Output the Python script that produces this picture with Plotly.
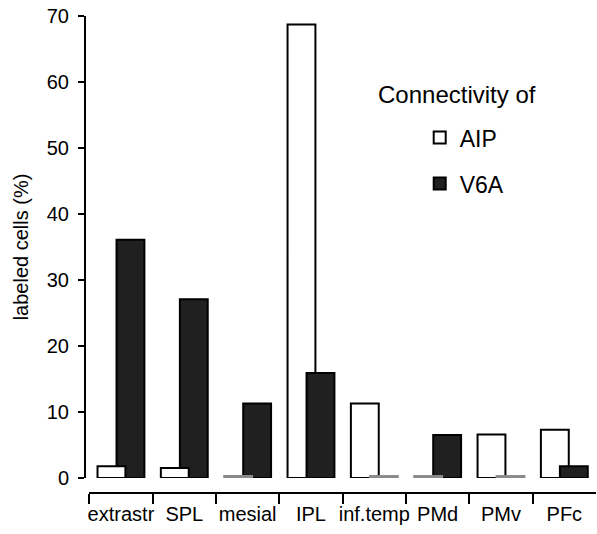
import plotly.graph_objects as go

categories = ["extrastr", "SPL", "mesial", "IPL", "inf.temp", "PMd", "PMv", "PFc"]
aip_values = [1.8, 1.5, 0.3, 68.7, 11.3, 0.3, 6.6, 7.3]
v6a_values = [36.1, 27.1, 11.3, 15.9, 0.3, 6.5, 0.3, 1.8]
y_ticks = [0, 10, 20, 30, 40, 50, 60, 70]

FONT = "Liberation Sans, Arial, sans-serif"
DARK = "#202020"


def split(vals, other):
    back = [v if v >= o else None for v, o in zip(vals, other)]
    front = [v if v < o else None for v, o in zip(vals, other)]
    return back, front


def line_colors(vals):
    return ["#8a8a8a" if (v is not None and v < 1) else "black" for v in vals]


aip_back, aip_front = split(aip_values, v6a_values)
v6a_back, v6a_front = split(v6a_values, aip_values)

fig = go.Figure()
specs = [
    ("AIP", aip_back, "white", -0.37, True, "a"),
    ("V6A", v6a_back, DARK, -0.07, True, "b"),
    ("AIP", aip_front, "white", -0.37, False, "a"),
    ("V6A", v6a_front, DARK, -0.07, False, "b"),
]
for name, vals, fill, off, show, grp in specs:
    fig.add_trace(go.Bar(
        x=categories, y=vals, name=name, width=0.44, offset=off,
        marker=dict(color=fill, line=dict(color=line_colors(vals), width=2)),
        showlegend=show, legendgroup=grp, cliponaxis=False,
    ))

fig.update_layout(
    width=597, height=534,
    margin=dict(l=85, r=1, t=16, b=41),
    paper_bgcolor="white", plot_bgcolor="white",
    barmode="overlay",
    font=dict(family=FONT, size=20, color="black"),
    xaxis=dict(
        domain=[0.0084, 1], range=[-0.5, 7.5], anchor="free", position=0,
        showline=True, linewidth=2, linecolor="black",
        ticks="outside", ticklen=10, tickwidth=2, tickcolor="black",
        tickson="boundaries", showgrid=False, zeroline=False,
        tickfont=dict(size=20), tickangle=0, automargin=False,
        ticklabelstandoff=3,
    ),
    yaxis=dict(
        domain=[0.0314, 1], range=[0, 70], anchor="free", position=0,
        tickvals=y_ticks, ticktext=[str(t) for t in y_ticks],
        showline=True, linewidth=2, linecolor="black",
        ticks="outside", ticklen=6, tickwidth=2, tickcolor="black",
        showgrid=False, zeroline=False, tickfont=dict(size=20),
        automargin=False, ticklabelstandoff=5,
        title=dict(text="labeled cells (%)", font=dict(size=20), standoff=12),
    ),
    legend=dict(
        x=0.655, y=0.79, xanchor="left", yanchor="top",
        font=dict(size=23), tracegroupgap=13, bgcolor="rgba(0,0,0,0)",
        traceorder="grouped",
    ),
    annotations=[dict(
        text="Connectivity of", x=0.728, y=0.836, xref="paper", yref="paper",
        xanchor="center", yanchor="middle", showarrow=False,
        font=dict(size=24),
    )],
)

fig.write_html("out.html", config={"displayModeBar": False},
               post_script="document.body.style.margin='0';")
